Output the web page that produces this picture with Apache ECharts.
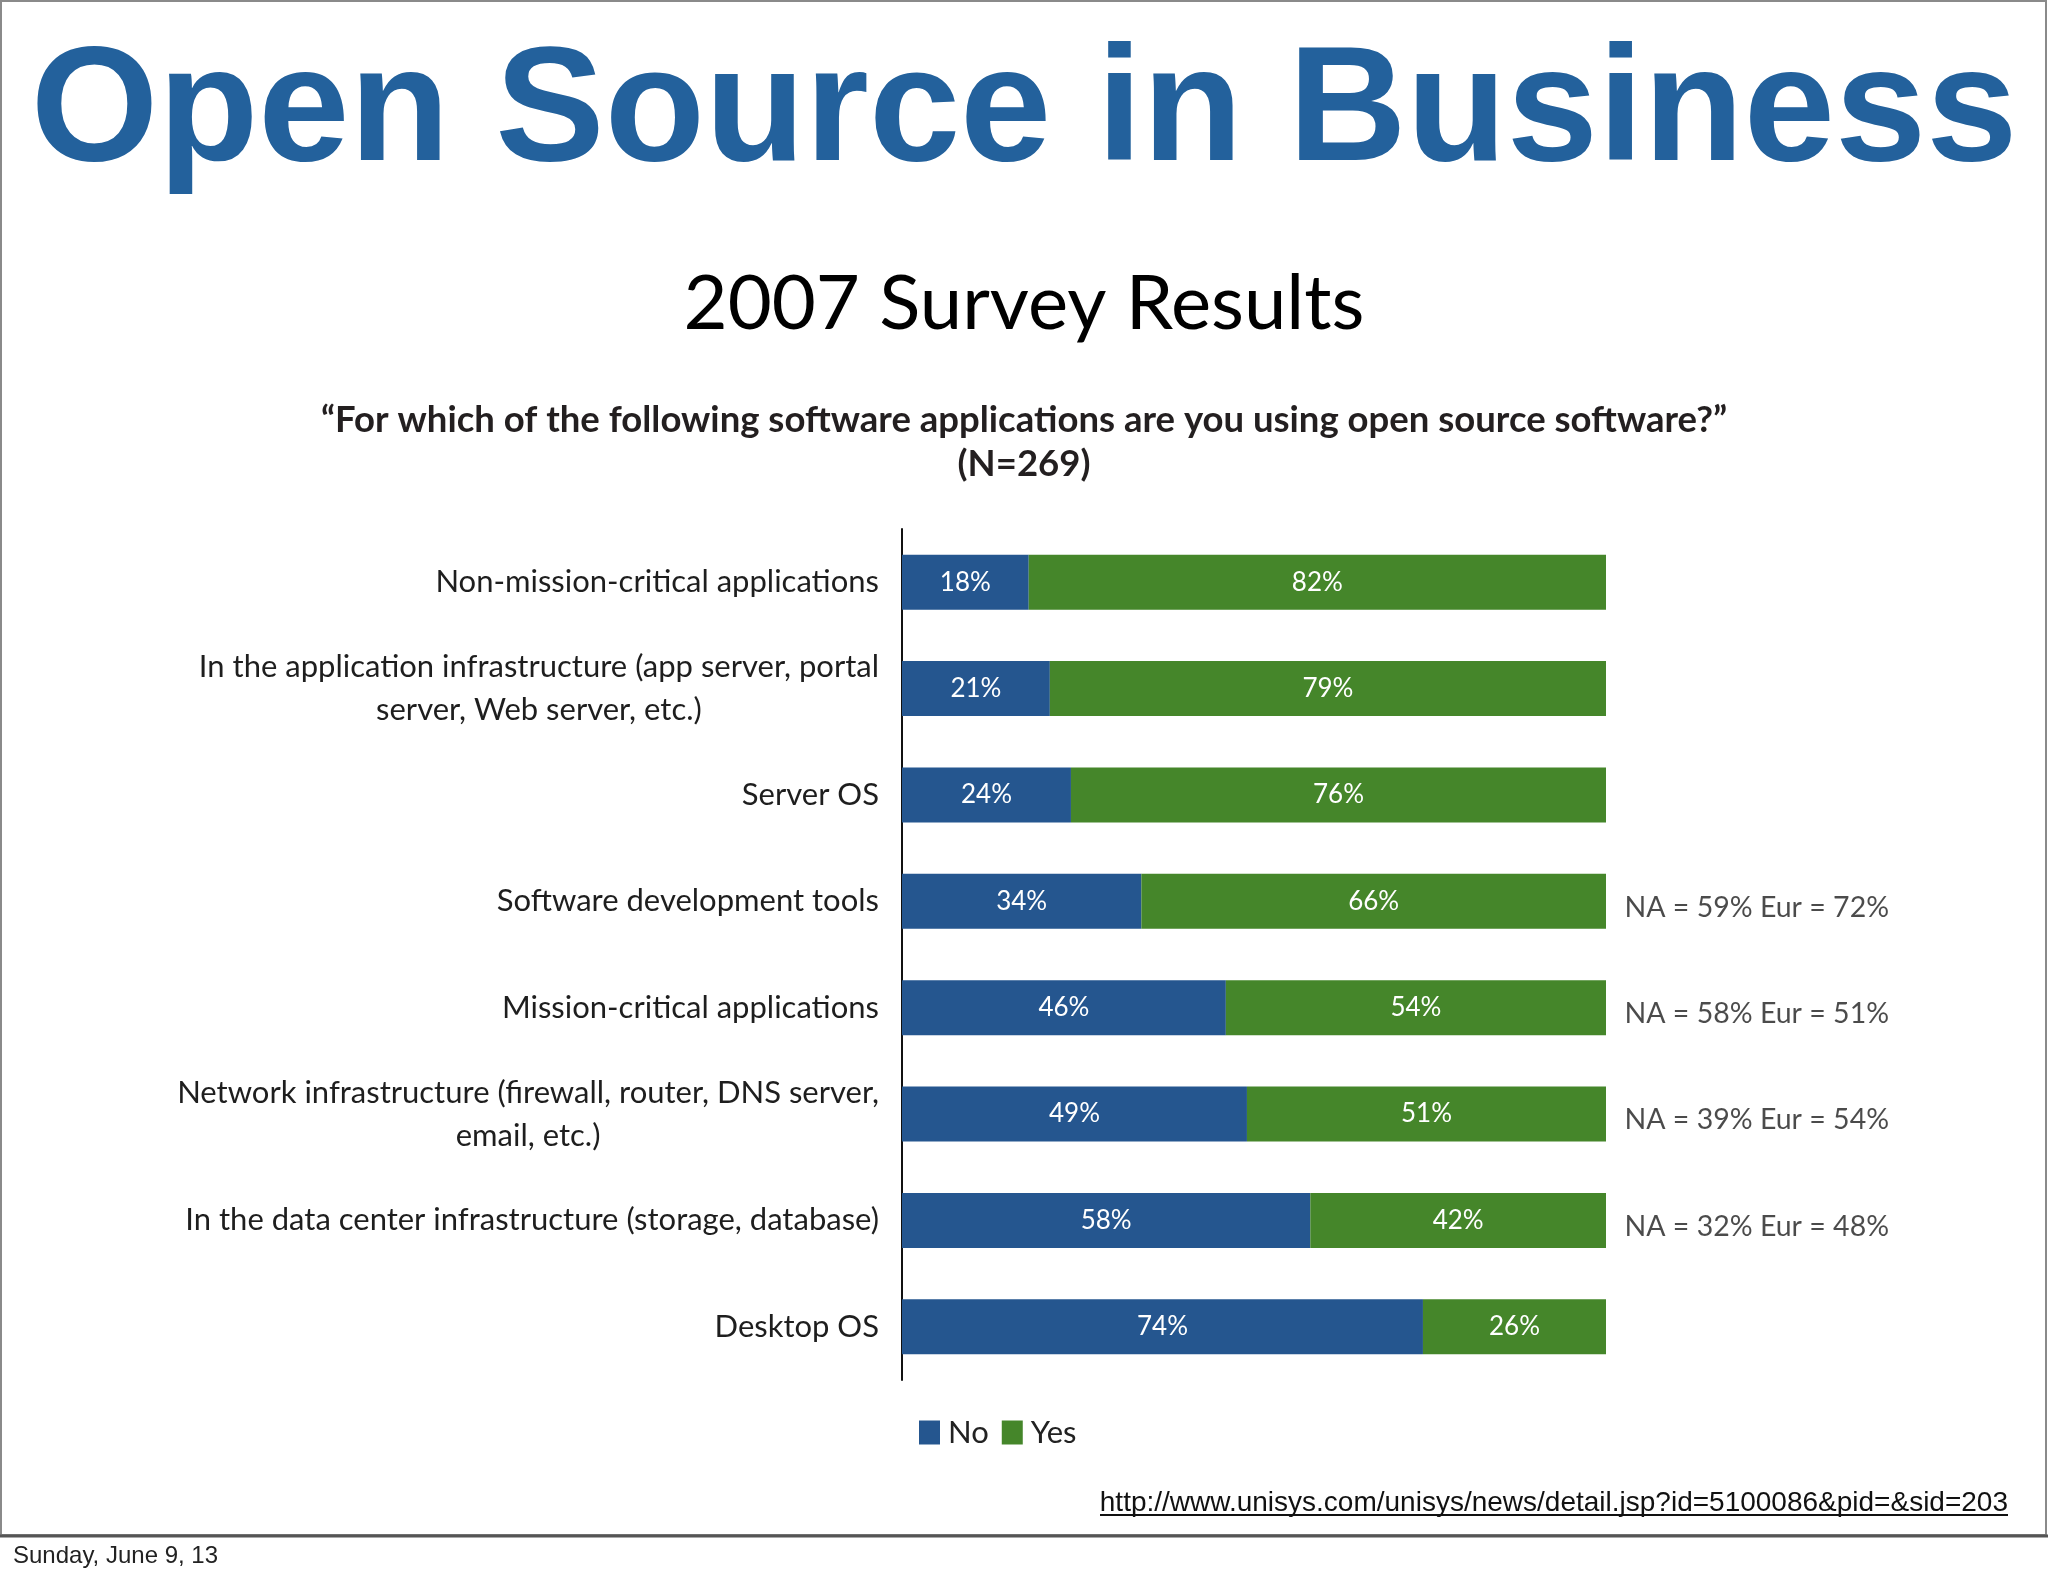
<!DOCTYPE html>
<html lang="en">
<head>
  <meta charset="UTF-8">
  <title>Open Source in Business</title>
  <script src="https://cdn.jsdelivr.net/npm/echarts@6/dist/echarts.min.js"></script>
  <style>
    html, body {
      margin: 0;
      padding: 0;
      background: #ffffff;
    }
    #chart {
      width: 2048px;
      height: 1576px;
    }
  </style>
</head>
<body>
  <div id="chart"></div>

  <script>
    // survey answers, top to bottom
    const categories = [
      'Non-mission-critical applications',
      'In the application infrastructure (app server, portal\nserver, Web server, etc.)',
      'Server OS',
      'Software development tools',
      'Mission-critical applications',
      'Network infrastructure (firewall, router, DNS server,\nemail, etc.)',
      'In the data center infrastructure (storage, database)',
      'Desktop OS'
    ];
    const noValues = [18, 21, 24, 34, 46, 49, 58, 74];
    const yesValues = [82, 79, 76, 66, 54, 51, 42, 26];
    const regionNotes = ['', '', '', 'NA = 59% Eur = 72%', 'NA = 58% Eur = 51%', 'NA = 39% Eur = 54%', 'NA = 32% Eur = 48%', ''];

    const sourceUrl = 'http://www.unisys.com/unisys/news/detail.jsp?id=5100086&pid=&sid=203';
    const slideDate = 'Sunday, June 9, 13';

    const labelFont = 'Lato';
    const blue = '#25568f';
    const green = '#45862a';

    // scatter points at 100% just to carry the regional notes
    const noteData = [];
    regionNotes.forEach(function (note, i) {
      if (note) noteData.push({ value: [100, i], note: note });
    });

    const chart = echarts.init(document.getElementById('chart'));

    const option = {
      backgroundColor: '#ffffff',
      animation: false,
      title: [
        {
          text: 'Open Source in Business',
          left: 'center',
          top: 33,
          padding: 0,
          textStyle: {
            fontFamily: 'Liberation Sans',
            fontWeight: 'bold',
            fontSize: 164,
            lineHeight: 164,
            color: '#23619c'
          }
        },
        {
          text: '2007 Survey Results',
          left: 'center',
          top: 266,
          padding: 0,
          textStyle: {
            fontFamily: labelFont,
            fontWeight: 'normal',
            fontSize: 76,
            lineHeight: 76,
            color: '#000000'
          }
        },
        {
          text: '\u201cFor which of the following software applications are you using open source software?\u201d',
          left: 'center',
          top: 402,
          padding: 0,
          textStyle: {
            fontFamily: labelFont,
            fontWeight: 'bold',
            fontSize: 36.5,
            lineHeight: 36,
            color: '#231f20'
          }
        },
        {
          text: '(N=269)',
          left: 'center',
          top: 446,
          padding: 0,
          textStyle: {
            fontFamily: labelFont,
            fontWeight: 'bold',
            fontSize: 36.5,
            lineHeight: 36,
            color: '#231f20'
          }
        }
      ],
      legend: {
        data: ['No', 'Yes'],
        left: 919,
        top: 1417,
        padding: 0,
        icon: 'rect',
        itemWidth: 21,
        itemHeight: 24,
        itemGap: 13,
        selectedMode: false,
        textStyle: {
          fontFamily: labelFont,
          fontSize: 31,
          color: '#222222',
          padding: [0, 0, 0, 3]
        }
      },
      grid: {
        left: 902,
        right: 442,
        top: 529,
        bottom: 196
      },
      xAxis: {
        type: 'value',
        min: 0,
        max: 100,
        show: false
      },
      yAxis: {
        type: 'category',
        inverse: true,
        data: categories,
        axisLine: {
          show: true,
          lineStyle: { color: '#111111', width: 2 }
        },
        axisTick: { show: false },
        splitLine: { show: false },
        axisLabel: {
          margin: 23,
          align: 'right',
          formatter: function (value) {
            return value.split('\n').map(function (s) { return '{c|' + s + '}'; }).join('\n');
          },
          rich: {
            c: {
              align: 'center',
              fontFamily: labelFont,
              fontSize: 31,
              lineHeight: 43,
              color: '#1e1e1e'
            }
          }
        }
      },
      series: [
        {
          name: 'No',
          type: 'bar',
          stack: 'total',
          barWidth: 55,
          data: noValues,
          itemStyle: { color: blue },
          label: {
            show: true,
            position: 'inside',
            formatter: '{c}%',
            fontFamily: labelFont,
            fontSize: 26,
            color: '#ffffff'
          }
        },
        {
          name: 'Yes',
          type: 'bar',
          stack: 'total',
          barWidth: 55,
          data: yesValues,
          itemStyle: { color: green },
          label: {
            show: true,
            position: 'inside',
            formatter: '{c}%',
            fontFamily: labelFont,
            fontSize: 26,
            color: '#ffffff'
          }
        },
        {
          name: 'Notes',
          type: 'scatter',
          data: noteData,
          symbolSize: 1,
          silent: true,
          itemStyle: { color: 'rgba(0,0,0,0)' },
          label: {
            show: true,
            position: 'right',
            distance: 18,
            offset: [0, 6],
            formatter: function (params) {
              return params.data.note;
            },
            fontFamily: labelFont,
            fontSize: 28.5,
            color: '#1e1e1e'
          }
        }
      ],
      graphic: [
        {
          type: 'rect',
          silent: true,
          shape: { x: 1, y: 1, width: 2045, height: 1534 },
          style: { fill: 'none', stroke: '#8a8a8a', lineWidth: 2 }
        },
        {
          type: 'line',
          silent: true,
          shape: { x1: 0, y1: 1536, x2: 2048, y2: 1536 },
          style: { stroke: '#555555', lineWidth: 3 }
        },
        {
          type: 'text',
          silent: true,
          style: {
            x: 2008,
            y: 1503,
            text: sourceUrl,
            fontFamily: 'Liberation Sans',
            fontSize: 28,
            align: 'right',
            verticalAlign: 'middle',
            fill: '#111111'
          }
        },
        {
          type: 'line',
          silent: true,
          shape: { x1: 1100, y1: 1515, x2: 2008, y2: 1515 },
          style: { stroke: '#111111', lineWidth: 2 }
        },
        {
          type: 'text',
          silent: true,
          style: {
            x: 13,
            y: 1556,
            text: slideDate,
            fontFamily: 'Liberation Sans',
            fontSize: 24,
            align: 'left',
            verticalAlign: 'middle',
            fill: '#222222'
          }
        }
      ]
    };

    chart.setOption(option);
  </script>
</body>
</html>
